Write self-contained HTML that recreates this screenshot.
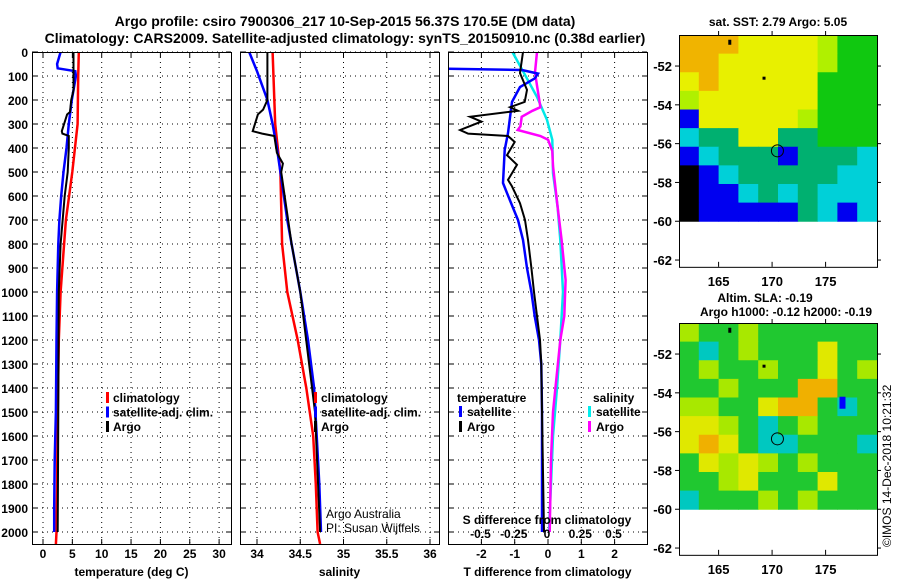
<!DOCTYPE html>
<html><head><meta charset="utf-8"><style>
html,body{margin:0;padding:0;background:#fff;}
svg{display:block;font-family:"Liberation Sans",sans-serif;}
.b{font-weight:bold;}
</style></head><body>
<svg id="s" width="900" height="580" viewBox="0 0 900 580">
<text class="b" x="345" y="26" font-size="14" text-anchor="middle">Argo profile: csiro 7900306_217 10-Sep-2015 56.37S 170.5E (DM data)</text>
<text class="b" x="345" y="43" font-size="14" text-anchor="middle">Climatology: CARS2009. Satellite-adjusted climatology: synTS_20150910.nc (0.38d earlier)</text>
</svg>
<script>
// ---- depth axis data ----
const depthTicks=[0,100,200,300,400,500,600,700,800,900,1000,1100,1200,1300,1400,1500,1600,1700,1800,1900,2000];
// ---- temperature panel ----
const tTicks=[0,5,10,15,20,25,30];
const tClimDepth=[0,100,300,500,700,800,1000,1200,1500,1800,2000,2050];
const tClimVal=[6.1,6.0,5.9,5.0,3.9,3.6,3.0,2.7,2.5,2.4,2.3,2.2];
const tSatDepth=[0,50,68,80,100,200,300,400,500,600,700,800,1000,1200,1500,1700,1900,2000];
const tSatVal=[3.0,2.4,2.5,5.5,5.6,4.9,4.4,4.0,3.5,3.1,2.8,2.6,2.4,2.3,2.2,2.0,1.9,1.9];
const tArgoDepth=[0,100,160,200,250,260,330,340,350,400,500,600,800,1000,1500,2000];
const tArgoVal=[5.2,5.2,5.2,4.8,4.6,4.1,3.2,3.3,4.4,4.4,4.2,3.7,3.0,2.7,2.6,2.5];
// ---- salinity panel ----
const sTicks=[34,34.5,35,35.5,36];
const sClimDepth=[0,300,500,800,1000,1200,1400,1600,1800,2000,2050];
const sClimVal=[34.18,34.21,34.27,34.29,34.35,34.47,34.57,34.65,34.68,34.70,34.73];
const sSatDepth=[0,80,200,300,400,500,700,800,1000,1200,1400,1600,1800,2000];
const sSatVal=[33.91,34.0,34.12,34.18,34.23,34.27,34.35,34.40,34.50,34.59,34.66,34.69,34.72,34.74];
const sArgoDepth=[0,200,240,260,330,340,350,420,465,500,800,1000,1500,2000];
const sArgoVal=[34.12,34.12,34.07,34.01,33.95,34.06,34.2,34.23,34.3,34.28,34.4,34.5,34.67,34.73];
// ---- difference panel ----
const dTTicks=[-2,-1,0,1,2];
const dSTicks=[-0.5,-0.25,0,0.25,0.5];
const dSTickLabels=["-0.5","-0.25","0","0.25","0.5"];
const dTSatDepth=[70,75,90,110,146,208,338,408,546,588,700,783,900,1000,1100,1200,1300,1500,2000];
const dTSatVal=[-3.0,-0.78,-0.3,-0.4,-0.84,-1.08,-1.2,-1.3,-1.35,-1.23,-0.9,-0.75,-0.63,-0.5,-0.4,-0.27,-0.2,-0.18,-0.18];
const dTArgoDepth=[0,88,158,208,230,245,270,290,325,340,350,375,430,470,533,560,630,700,783,900,1000,1100,1200,1300,1500,2000];
const dTArgoVal=[-0.75,-0.84,-0.63,-0.7,-1.14,-0.9,-2.34,-2.0,-2.64,-2.4,-1.2,-1.0,-1.23,-0.93,-1.2,-1.08,-0.84,-0.69,-0.6,-0.5,-0.42,-0.33,-0.24,-0.2,-0.18,-0.12];
const dSSatDepth=[0,70,187,283,366,505,645,783,1000,1200,1400,1600,1800,2000];
const dSSatVal=[-0.26,-0.19,-0.075,0,0.04,0.045,0.08,0.1,0.12,0.1,0.075,0.045,0.03,0.015];
const dSArgoDepth=[0,85,140,230,245,270,310,325,350,366,413,475,645,783,950,1100,1200,1500,1700,2000];
const dSArgoVal=[-0.075,-0.09,-0.075,-0.05,-0.11,-0.19,-0.2,-0.22,-0.05,0.008,0.04,0.045,0.08,0.11,0.14,0.13,0.1,0.045,0.03,0.02];
// ---- maps (coarse colour grids, rows north->south) ----
const sstRows=["OOOYYYYLGG","OOYYYYYLGG","YOYYYYYGGG","LYYYYYYGGG","BYYYYYLGGG","CTTYYTTGGG","BCTTTBTTTC","KBCTTTTTCC","KBBCTCTCCC","KBBBBBTCBC"];
const slaRows=["LGGLGGGGGG","GCGLGGGYGG","GLGGLGGYGL","GGLGGGOOGG","LLGGYOOGCG","YYLGCGLGGG","YOYGCCGGGC","GYLYLGLGGG","GGLYGGGYGG","CGGGLGLGGG"];
const lonTicks=[165,170,175];
const latTicks=[-52,-54,-56,-58,-60,-62];
const argoLon=170.5, argoLat=-56.37;

const NS="http://www.w3.org/2000/svg", S=document.getElementById('s');
function el(tag,attrs,parent){const e=document.createElementNS(NS,tag);for(const k in attrs)e.setAttribute(k,attrs[k]);(parent||S).appendChild(e);return e;}
function txt(x,y,s,size,anchor,bold,parent){const t=el('text',{x:x,y:y,'font-size':size,'text-anchor':anchor||'start'},parent);if(bold!==false)t.setAttribute('class','b');t.textContent=s;return t;}

const Y0=52,PY=0.24,BOT=544;
const yD=d=>Y0+d*PY;
const panels=[
 {x0:32,x1:231,name:'temperature-panel',sx:v=>43+v*5.87,ticks:tTicks,lab:tTicks.map(String),xl:'temperature (deg C)'},
 {x0:240,x1:439,name:'salinity-panel',sx:v=>257+(v-34)*86.5,ticks:sTicks,lab:["34","34.5","35","35.5","36"],xl:'salinity'},
 {x0:448,x1:647,name:'difference-panel',sx:v=>548+v*33.3,ticks:dTTicks,lab:dTTicks.map(String),xl:'T difference from climatology'}
];
const sxS=v=>547+v*133;

// y labels
depthTicks.forEach(d=>{const t=txt(28,yD(d)+5,String(d),12,'end');

});

function line(g,xs,ds,fx,col,name,w){
  const pts=ds.map((d,i)=>{let x=fx(xs[i]);return x.toFixed(1)+','+yD(d).toFixed(1);}).join(' ');
  const p=el('polyline',{points:pts,fill:'none',stroke:col,'stroke-width':w||2.5},g);
  
  
}
panels.forEach((P,pi)=>{
  const g=el('g',{});
  
  
  const cid='clip'+pi;
  const cp=el('clipPath',{id:cid},g);el('rect',{x:P.x0,y:Y0,width:P.x1-P.x0,height:BOT-Y0},cp);
  const gr=el('g',{},g);
  depthTicks.forEach(d=>el('line',{x1:P.x0,x2:P.x1,y1:yD(d),y2:yD(d),stroke:'#000','stroke-width':1,'stroke-dasharray':'1,4'},gr));
  P.ticks.forEach((v,i)=>{const x=P.sx(v);
    el('line',{x1:x,x2:x,y1:Y0,y2:BOT,stroke:'#000','stroke-width':1,'stroke-dasharray':'1,4'},gr);
    el('line',{x1:x,x2:x,y1:BOT,y2:BOT-5,stroke:'#000'},gr);el('line',{x1:x,x2:x,y1:Y0,y2:Y0+5,stroke:'#000'},gr);
    const t=txt(x,558,P.lab[i],12,'middle');
    
    
  });
  depthTicks.forEach(d=>{el('line',{x1:P.x0,x2:P.x0+5,y1:yD(d),y2:yD(d),stroke:'#000'},gr);el('line',{x1:P.x1,x2:P.x1-5,y1:yD(d),y2:yD(d),stroke:'#000'},gr);});
  const xt=txt((P.x0+P.x1)/2,576,P.xl,12,'middle');
  
  
  const lg=el('g',{'clip-path':'url(#'+cid+')'},g);
  if(pi===0){line(lg,tClimVal,tClimDepth,P.sx,'#f00','climatology-line');line(lg,tSatVal,tSatDepth,P.sx,'#00f','satellite-line');line(lg,tArgoVal,tArgoDepth,P.sx,'#000','argo-line',2);}
  if(pi===1){line(lg,sClimVal,sClimDepth,P.sx,'#f00','climatology-line');line(lg,sSatVal,sSatDepth,P.sx,'#00f','satellite-line');line(lg,sArgoVal,sArgoDepth,P.sx,'#000','argo-line',2);}
  if(pi===2){line(lg,dSSatVal,dSSatDepth,sxS,'#00e8e8','s-satellite-diff-line');line(lg,dSArgoVal,dSArgoDepth,sxS,'#f0f','s-argo-diff-line');
    line(lg,dTSatVal,dTSatDepth,P.sx,'#00f','t-satellite-diff-line');line(lg,dTArgoVal,dTArgoDepth,P.sx,'#000','t-argo-diff-line',2);}
  const fr=el('rect',{x:P.x0+0.5,y:Y0+0.5,width:P.x1-P.x0,height:BOT-Y0,fill:'none',stroke:'#000'},g);
  
  
  if(pi<2){
    const lx=P.x0+73, items=[['climatology','#f00'],['satellite-adj. clim.','#00f'],['Argo','#000']];
    items.forEach((it,i)=>{const y=402+i*14.5;
      const m=el('rect',{x:lx+1,y:y-10,width:3,height:11,fill:it[1]},g);
      
      
      const t=txt(lx+8,y,it[0],12,'start');
      
      
      t.setAttribute('fill','#000');});
  }
  if(pi===1){
    const a=txt(326,518,'Argo Australia',12,'start',false);
    
    
    const b=txt(326,532,'PI: Susan Wijffels',12,'start',false);
    
    
  }
  if(pi===2){
    const h1=txt(457,402,'temperature',12,'start');
    const h2=txt(593,402,'salinity',12,'start');
    [['satellite','#00f',459,416],['Argo','#000',459,431],['satellite','#0ee',588,416],['Argo','#f0f',588,431]].forEach(it=>{
      const m=el('rect',{x:it[2],y:it[3]-10,width:3,height:11,fill:it[1]},g);
      
      
      const t=txt(it[2]+8,it[3],it[0],12,'start');
      
      });
    const st=txt(547,524,'S difference from climatology',12,'middle');
    
    
    dSTicks.forEach((v,i)=>{const t=txt(sxS(v),538,dSTickLabels[i],12,'middle');
      
      });
  }
});

// ---- maps ----
const COL={O:'#f0b400',Y:'#e8f000',L:'#b0f000',G:'#10c810',T:'#00b070',C:'#00d0d8',B:'#0000f0',K:'#000000'};
const COL2={O:'#f0b000',Y:'#e0e800',L:'#a8e800',G:'#20c830',C:'#00c8c0'};
function map(top,rows,cols,name,title1,title2){
  const g=el('g',{});
  
  
  const x0=679,x1=877,lonL=161.3,pxLon=10.7,pxLat=19.4,latTop=-50.4;
  const fx=l=>x0+(l-lonL)*pxLon, fy=la=>top+(latTop-la)*pxLat;
  const nR=rows.length,nC=rows[0].length,cw=(x1-x0)/nC,ch=(fy(-60)-top)/nR;
  rows.forEach((r,i)=>{for(let j=0;j<nC;j++){const c=el('rect',{x:x0+j*cw,y:top+i*ch,width:cw+0.5,height:ch+0.5,fill:cols[r[j]]},g);
    
    }});
  if(name==='altimetry-map'){const b=el('rect',{x:fx(176.3),y:fy(-54.2),width:6,height:12,fill:'#00f'},g);}
  const c=el('circle',{cx:fx(argoLon),cy:fy(argoLat),r:6,fill:'none',stroke:'#000'},g);
  
  
  el('rect',{x:fx(166)-1,y:fy(-50.8)-3,width:3,height:5,fill:'#000'},g);
  el('rect',{x:fx(169.2)-1,y:fy(-52.6)-1,width:3,height:3,fill:'#000'},g);
  const bot=fy(-62.35);
  el('rect',{x:x0+0.5,y:top+0.5,width:x1-x0,height:bot-top,fill:'none',stroke:'#000'},g);
  lonTicks.forEach(l=>{const x=fx(l);el('line',{x1:x,x2:x,y1:bot,y2:bot-5,stroke:'#000'},g);el('line',{x1:x,x2:x,y1:top,y2:top-4,stroke:'#000'},g);
    const t=txt(x,bot+19,String(l),13,'middle');});
  latTicks.forEach(l=>{const y=fy(l);el('line',{x1:x0,x2:x0-4,y1:y,y2:y,stroke:'#000'},g);el('line',{x1:x1,x2:x1+4,y1:y,y2:y,stroke:'#000'},g);
    const t=txt(672,y+5,String(l),13,'end');});
  return g;
}
map(35,sstRows,COL,'sst-map');
map(323,slaRows,COL2,'altimetry-map');
const m1=txt(778,26,'sat. SST: 2.79 Argo: 5.05',12,'middle');
const m2=txt(765,302,'Altim. SLA: -0.19',12,'middle');
const m3=txt(786,316,'Argo h1000: -0.12 h2000: -0.19',12,'middle');
const cr=txt(0,0,'©IMOS 14-Dec-2018 10:21:32',12,'start',false);
cr.setAttribute('transform','translate(891,547) rotate(-90)');


</script>
</body></html>
